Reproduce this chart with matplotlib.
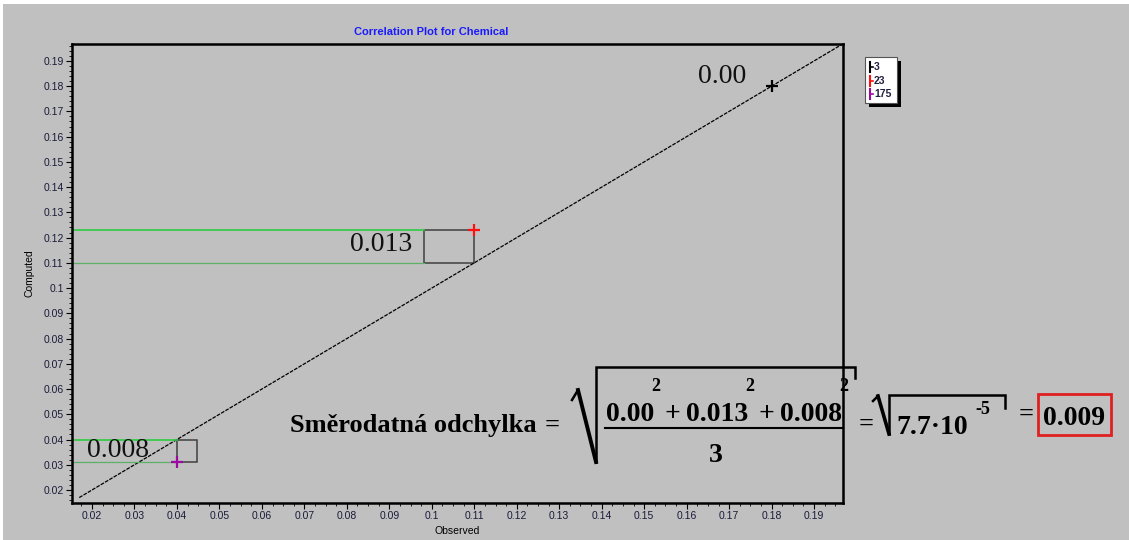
import numpy as np
import matplotlib.pyplot as plt
from matplotlib.patches import Rectangle
from matplotlib.lines import Line2D
from matplotlib.ticker import MultipleLocator, FuncFormatter

# sample ids and values
sample_ids = ['3', '23', '175']
observed = [0.18, 0.11, 0.04]
computed = [0.18, 0.123, 0.031]
marker_colors = ['black', '#ff1010', '#9a0aa0']
diff_labels = ['0.00', '0.013', '0.008']

W, H = 1129, 540
BG = '#c0c0c0'

fig = plt.figure(figsize=(W / 100, H / 100), dpi=100)
fig.patch.set_facecolor('white')
fig.patches.append(Rectangle((3 / W, 0), 1, 1 - 4 / H, transform=fig.transFigure,
                             facecolor=BG, edgecolor='none', zorder=-10))


def px(x, y):
    # pixel position (from top-left) -> figure fraction
    return x / W, 1 - y / H


ax = fig.add_axes([72 / W, 37 / H, 771 / W, 459 / H])
ax.set_facecolor(BG)
ax.set_xlim(0.0153, 0.1968)
ax.set_ylim(0.01485, 0.1967)

fmt = FuncFormatter(lambda v, p: '{:g}'.format(round(v, 4)))
ax.xaxis.set_major_locator(MultipleLocator(0.01))
ax.yaxis.set_major_locator(MultipleLocator(0.01))
ax.xaxis.set_minor_locator(MultipleLocator(0.0025))
ax.yaxis.set_minor_locator(MultipleLocator(0.002))
ax.xaxis.set_major_formatter(fmt)
ax.yaxis.set_major_formatter(fmt)
ax.tick_params(which='major', direction='out', length=4, width=0.8,
               labelsize=7.5, labelcolor='#1a1a3a', pad=2)
ax.tick_params(which='minor', direction='out', length=2, width=0.6)
for lab in ax.get_xticklabels() + ax.get_yticklabels():
    lab.set_family('Liberation Sans')
for s in ax.spines.values():
    s.set_linewidth(1.8)

fig.text(*px(431, 32), 'Correlation Plot for Chemical', fontsize=8, weight='bold',
         color='#1a1aff', family='Liberation Sans', ha='center', va='center')
ax.set_xlabel('Observed', fontsize=7.5, family='Liberation Sans', labelpad=3)
ax.set_ylabel('Computed', fontsize=7.5, family='Liberation Sans', labelpad=6)

# y = x reference line
ax.plot([0.017, 0.2], [0.017, 0.2], color='black', lw=0.9, ls=(0, (3, 1)))

# difference guides for the two off-diagonal samples
x0 = ax.get_xlim()[0]
box_left = [0.0982, 0.04]
box_right = [0.11, 0.0447]
for i, (o, c) in enumerate(zip(observed[1:], computed[1:])):
    top, bot = max(o, c), min(o, c)
    bl, br = box_left[i], box_right[i]
    ax.plot([x0, bl], [top, top], color='#2ecc40', lw=1.2)
    ax.plot([x0, bl], [bot, bot], color='#5cb068', lw=0.9)
    ax.add_patch(Rectangle((bl, bot), br - bl, top - bot, fill=False,
                           edgecolor='#404040', lw=1.1))

for o, c, col in zip(observed, computed, marker_colors):
    ax.plot(o, c, marker='+', color=col, ms=9, mew=1.6, ls='none', zorder=5)

label_pos = [(0.1683, 0.1837), (0.0880, 0.1171), (0.0261, 0.0355)]
for (lx, ly), t in zip(label_pos, diff_labels):
    ax.text(lx, ly, t, fontsize=20, family='Liberation Serif',
            ha='center', va='center', color='#111111')

# legend box
lx0, ly0, lx1, ly1 = 865, 57, 897, 103
fig.patches.append(Rectangle(px(lx0 + 4, ly1 + 4), (lx1 - lx0) / W, (ly1 - ly0) / H,
                             transform=fig.transFigure, facecolor='black',
                             edgecolor='none', zorder=3))
fig.patches.append(Rectangle(px(lx0, ly1), (lx1 - lx0) / W, (ly1 - ly0) / H,
                             transform=fig.transFigure, facecolor='white',
                             edgecolor='#555555', lw=0.8, zorder=4))
for k, (sid, col) in enumerate(zip(sample_ids, marker_colors)):
    yy = 67 + k * 13.5
    fig.lines.append(Line2D([px(870, 0)[0]] * 2, [px(0, yy - 5)[1], px(0, yy + 5)[1]],
                            transform=fig.transFigure, color=col, lw=1.5, zorder=5))
    fig.lines.append(Line2D([px(870, 0)[0], px(873, 0)[0]], [px(0, yy)[1]] * 2,
                            transform=fig.transFigure, color=col, lw=1.2, zorder=5))
    fig.text(*px(874, yy), sid, fontsize=7.5, family='Liberation Sans', weight='bold',
             color='#202040', ha='left', va='center', zorder=6)

# formula
serif = dict(family='Liberation Serif', weight='bold', color='black')
fig.text(*px(290, 432), 'Směrodatná odchylka', fontsize=19, ha='left', va='baseline', **serif)
fig.text(*px(552, 425), '=', fontsize=19, ha='center', va='center', **serif)


def fig_line(xs, ys, lw):
    fx = [x / W for x in xs]
    fy = [1 - y / H for y in ys]
    fig.lines.append(Line2D(fx, fy, transform=fig.transFigure, color='black',
                            lw=lw, solid_joinstyle='miter', zorder=5))


# first radical
fig_line([572, 578], [400, 390], 1.8)
fig_line([578, 596], [390, 462], 2.8)
fig_line([596, 596, 855, 855], [462, 367, 367, 378], 1.8)

# numerator laid out piece by piece, squared terms with a raised "2"
renderer = fig.canvas.get_renderer()
pieces = ['0.00', '+', '0.013', '+', '0.008']
xcur = 606
for p in pieces:
    t = fig.text(*px(xcur, 421), p, fontsize=20, ha='left', va='baseline', **serif)
    w = t.get_window_extent(renderer).width
    if p == '+':
        xcur += w + 6
    else:
        fig.text(*px(xcur + w + 1, 391), '2', fontsize=13, ha='center',
                 va='baseline', **serif)
        xcur += w + 10
fig_line([605, 843], [428, 428], 1.5)
fig.text(*px(716, 462), '3', fontsize=20, ha='center', va='baseline', **serif)
fig.text(*px(866, 424), '=', fontsize=19, ha='center', va='center', **serif)

# second radical
fig_line([873, 878], [401, 396], 1.8)
fig_line([878, 889], [396, 434], 2.6)
fig_line([889, 889, 1005, 1005], [434, 395, 395, 408], 1.8)
fig.text(*px(896, 434), '7.7·10', fontsize=20, ha='left', va='baseline', **serif)
fig.text(*px(975, 414), '-5', fontsize=13, ha='left', va='baseline', **serif)
fig.text(*px(1026, 414), '=', fontsize=19, ha='center', va='center', **serif)
fig.patches.append(Rectangle(px(1038, 435), 73 / W, 41 / H, transform=fig.transFigure,
                             fill=False, edgecolor='#e02020', lw=2, zorder=5))
fig.text(*px(1074, 425), '0.009', fontsize=20, ha='center', va='baseline', **serif)

fig.savefig('out.png', dpi=100, facecolor=fig.get_facecolor())
